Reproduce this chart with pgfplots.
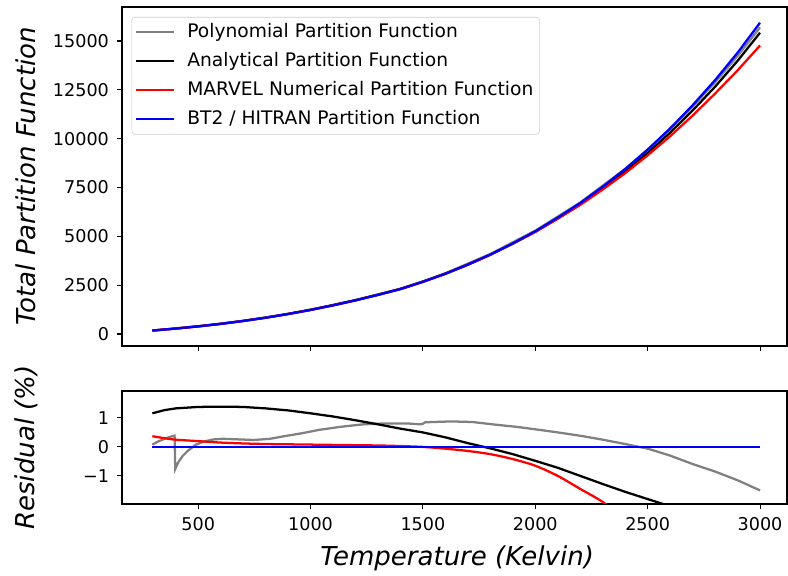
\documentclass[border=0pt]{standalone}
\usepackage{fontspec}
\setmainfont{DejaVu Sans}
\usepackage{pgfplots}
\pgfplotsset{compat=1.18}
\definecolor{mplgray}{HTML}{808080}

\pgfplotstableread{
T Q
296 176
400 279
500 390
600 518
700 665
800 832
900 1020
1000 1230
1100 1465
1200 1720
1300 2000
1400 2297
1500 2670
1600 3082
1700 3550
1800 4065
1900 4640
2000 5260
2100 5960
2200 6707
2300 7540
2400 8445
2500 9440
2600 10524
2700 11710
2800 12997
2900 14400
3000 15935
}\bttwo

\pgfplotstableread{
T Q
296 178.0
400 282.7
500 395.4
600 525.2
700 674.2
800 843.1
900 1032.9
1000 1244.3
1100 1480.4
1200 1735.8
1300 2015.6
1400 2311.5
1500 2683.4
1600 3092.2
1700 3554.6
1800 4063.0
1900 4628.4
2000 5234.8
2100 5917.1
2200 6639.9
2300 7443.5
2400 8314.1
2500 9270.1
2600 10308.3
2700 11440.7
2800 12659.1
2900 13982.4
3000 15425.1
}\analytical

\pgfplotstableread{
T Q
296 176.7
400 279.7
500 390.8
600 518.8
700 665.8
800 832.8
900 1020.9
1000 1231.0
1100 1466.0
1200 1721.0
1300 2001.0
1400 2297.7
1500 2670.0
1600 3080.2
1700 3545.0
1800 4054.8
1900 4620.5
2000 5225.8
2100 5900.4
2200 6609.7
2300 7396.7
2400 8233.9
2500 9147.4
2600 10124.1
2700 11183.1
2800 12308.2
2900 13492.8
3000 14771.7
}\marvel

\pgfplotstableread{
T Q
296 176.1
400 277.0
500 390.5
600 519.5
700 666.7
800 834.3
900 1024.0
1000 1236.8
1200 1733.4
1400 2315.6
1500 2691.4
1600 3109.1
1800 4097.5
2000 5291.6
2200 6733.2
2400 8453.4
2500 9434.3
2600 10492.4
2700 11642.1
2800 12886.5
2900 14234.4
3000 15696.0
}\poly

\pgfplotstableread{
T R
296 0.08
320 0.18
350 0.28
380 0.36
395 0.39
398 -0.76
410 -0.55
430 -0.32
453 -0.14
490 0.08
531 0.20
570 0.26
609 0.28
680 0.26
746 0.24
820 0.28
883 0.37
960 0.47
1039 0.59
1140 0.70
1235 0.78
1330 0.81
1430 0.81
1490 0.78
1500 0.80
1510 0.85
1626 0.88
1720 0.86
1821 0.77
1920 0.69
2017 0.59
2110 0.49
2212 0.37
2300 0.25
2400 0.10
2505 -0.07
2600 -0.30
2700 -0.59
2800 -0.85
2900 -1.15
3000 -1.50
}\polyres

\pgfplotstableread{
T R
296 1.16
350 1.27
400 1.33
500 1.38
600 1.39
700 1.38
800 1.33
900 1.26
1000 1.16
1100 1.05
1200 0.92
1300 0.78
1400 0.63
1500 0.50
1600 0.33
1700 0.13
1800 -0.05
1900 -0.25
2000 -0.48
2100 -0.72
2200 -1.00
2300 -1.28
2400 -1.55
2500 -1.80
2600 -2.05
2700 -2.30
}\analyticalres

\pgfplotstableread{
T R
296 0.37
350 0.30
400 0.25
500 0.20
600 0.15
700 0.12
800 0.10
900 0.09
1000 0.08
1100 0.07
1200 0.06
1300 0.05
1400 0.03
1500 0.00
1600 -0.06
1700 -0.14
1800 -0.25
1900 -0.42
2000 -0.65
2100 -1.00
2200 -1.45
2300 -1.90
2400 -2.50
2500 -3.10
}\marvelres

\pgfplotstableread{
T R
296 0.0
3000 0.0
}\btres

\begin{document}
\begin{tikzpicture}
\path[use as bounding box] (0pt,0pt) rectangle (591pt,431.25pt);
\pgfplotsset{
  every axis/.append style={
    scale only axis,
    width=498.75pt,
    axis line style={line width=0.8pt, black},
    tick style={line width=0.8pt, black},
    tick align=outside,
    major tick length=3.75pt,
    xtick pos=bottom, ytick pos=left,
    xmin=161, xmax=3120,
    xtick={500,1000,1500,2000,2500,3000},
    scaled ticks=false,
    ticklabel style={font=\fontsize{13.2}{15}\selectfont},
    xticklabel style={yshift=-3pt},
    yticklabel style={xshift=-2.5pt},
    /pgf/number format/assume math mode=true,
    /pgf/number format/1000 sep={},
    label style={font=\fontsize{19.5}{23}\selectfont\itshape},
    every axis plot/.append style={line width=1.7pt},
  }
}
\begin{axis}[
  at={(91.5pt,426pt)}, anchor=north west,
  height=254.25pt,
  ymin=-614, ymax=16741,
  ytick={0,2500,5000,7500,10000,12500,15000},
  yticklabels={0,2500,5000,7500,10000,12500,15000},
  xticklabels={},
  ylabel={Total Partition Function},
  ylabel style={at={(axis description cs:-0.144,0.5)}, anchor=center},
  legend style={at={(axis description cs:0.0146,0.9705)}, anchor=north west,
    draw=black!20, rounded corners=2pt, fill=white, fill opacity=0.8, text opacity=1,
    font=\fontsize{14}{16}\selectfont, inner sep=2.5pt, row sep=4.25pt, column sep=7.3pt,
    nodes={inner sep=2pt, text height=10.5pt, text depth=3pt}},
  legend cell align=left,
  legend image code/.code={\draw[#1] (0pt,0pt) -- (28pt,0pt);},
]
\addplot[mplgray] table[x=T,y=Q] {\poly};
\addlegendentry{Polynomial Partition Function}
\addplot[black] table[x=T,y=Q] {\analytical};
\addlegendentry{Analytical Partition Function}
\addplot[red] table[x=T,y=Q] {\marvel};
\addlegendentry{MARVEL Numerical Partition Function}
\addplot[blue] table[x=T,y=Q] {\bttwo};
\addlegendentry{BT2 / HITRAN Partition Function}
\end{axis}
\begin{axis}[
  at={(91.5pt,138pt)}, anchor=north west,
  height=84.75pt,
  ymin=-1.97, ymax=1.93,
  ytick={-1,0,1},
  yticklabels={−1,0,1},
  xticklabels={500,1000,1500,2000,2500,3000},
  xlabel={Temperature (Kelvin)},
  xlabel style={at={(axis description cs:0.504,-0.478)}, anchor=center},
  ylabel={Residual (\%)},
  ylabel style={at={(axis description cs:-0.144,0.5)}, anchor=center},
]
\addplot[mplgray] table[x=T,y=R] {\polyres};
\addplot[black] table[x=T,y=R] {\analyticalres};
\addplot[red, smooth] table[x=T,y=R] {\marvelres};
\addplot[blue] table[x=T,y=R] {\btres};
\end{axis}
\end{tikzpicture}
\end{document}
